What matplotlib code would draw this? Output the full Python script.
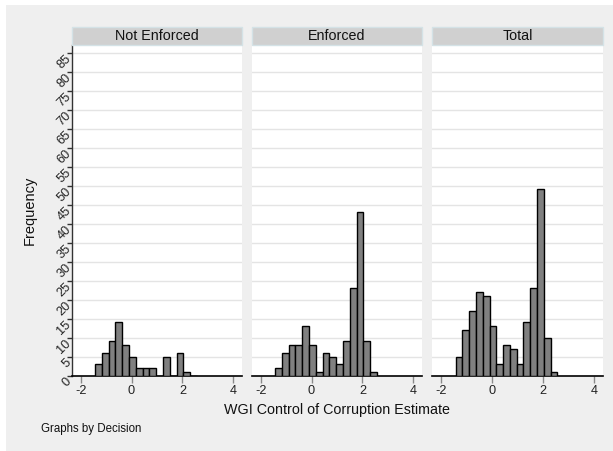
import numpy as np
import matplotlib
matplotlib.use("Agg")
import matplotlib.pyplot as plt
from matplotlib.patches import Rectangle

plt.rcParams['font.family'] = ['Liberation Sans', 'DejaVu Sans']

# histogram bins shared by all panels
bin_start = -1.435
bin_width = 0.267
panels = ["Not Enforced", "Enforced", "Total"]
not_enforced = [3, 6, 9, 14, 8, 5, 2, 2, 2, 0, 5, 0, 6, 1, 0]
enforced = [2, 6, 8, 8, 13, 8, 1, 6, 5, 3, 9, 23, 43, 9, 1]
total = [5, 12, 17, 22, 21, 13, 3, 8, 7, 3, 14, 23, 49, 10, 1]
counts = [not_enforced, enforced, total]

x_ticks = [-2, 0, 2, 4]
y_ticks = list(range(0, 90, 5))

W, H = 613, 451
fig = plt.figure(figsize=(W / 100, H / 100), dpi=100)
fig.patch.set_facecolor("white")
bg = Rectangle((6 / W, 0), 1, 1 - 5 / H, transform=fig.transFigure,
               facecolor="#efefef", edgecolor="none", zorder=-10)
fig.patches.append(bg)

def fx(px):
    return px / W

def fy(py):
    return 1 - py / H

lefts = [72, 252, 432.5]
pw = 170
top, bottom = 45, 375.5
strip_top = 26.5

edges = bin_start + bin_width * np.arange(len(not_enforced))

for i, (name, c) in enumerate(zip(panels, counts)):
    ax = fig.add_axes([fx(lefts[i]), fy(bottom), fx(pw), (bottom - top) / H])
    ax.set_facecolor("white")
    ax.bar(edges, c, width=bin_width, align="edge", color="#808080",
           edgecolor="black", linewidth=1.0, zorder=3)
    ax.set_xlim(-2.34, 4.34)
    ax.set_ylim(0, 87)
    ax.set_xticks(x_ticks)
    ax.set_xticklabels([str(t) for t in x_ticks])
    for y in y_ticks[1:]:
        ax.axhline(y, color="#e4e4e4", linewidth=1.0, zorder=1)
    for s in ["top", "right"]:
        ax.spines[s].set_visible(False)
    ax.spines["bottom"].set_color("black")
    ax.spines["bottom"].set_linewidth(1.2)
    ax.tick_params(axis="x", length=5, width=1, color="#8a8a8a",
                   labelsize=9.2, pad=2, labelcolor="#222222")
    if i == 0:
        ax.spines["left"].set_color("#333333")
        ax.spines["left"].set_linewidth(1.0)
        ax.set_yticks(y_ticks)
        ax.set_yticklabels([str(t) for t in y_ticks], rotation=45,
                           rotation_mode="anchor", ha="right", va="top")
        ax.tick_params(axis="y", length=3.5, width=1, color="#333333",
                       labelsize=9.2, pad=1.5, labelcolor="#222222")
    else:
        ax.set_yticks(y_ticks)
        ax.spines["left"].set_visible(False)
        ax.tick_params(axis="y", left=False, labelleft=False)

    # strip title
    strip = Rectangle((fx(lefts[i]), fy(top)), fx(pw), (top - strip_top) / H,
                      transform=fig.transFigure, facecolor="#d0d0d0",
                      edgecolor="#d4e2e6", linewidth=1.0)
    fig.patches.append(strip)
    fig.text(fx(lefts[i] + pw / 2), fy((top + strip_top) / 2), name,
             ha="center", va="center", fontsize=10.3, color="#111111")

fig.text(fx(30), fy(210), "Frequency", rotation=90, ha="center", va="center",
         fontsize=10.5, color="#111111")
fig.text(fx(337), fy(410), "WGI Control of Corruption Estimate", ha="center",
         va="center", fontsize=10.3, color="#111111")
fig.text(fx(41), fy(429), "Graphs by Decision", ha="left", va="center",
         fontsize=8.3, color="#111111")

fig.savefig("out.png", dpi=100, facecolor=fig.get_facecolor())
